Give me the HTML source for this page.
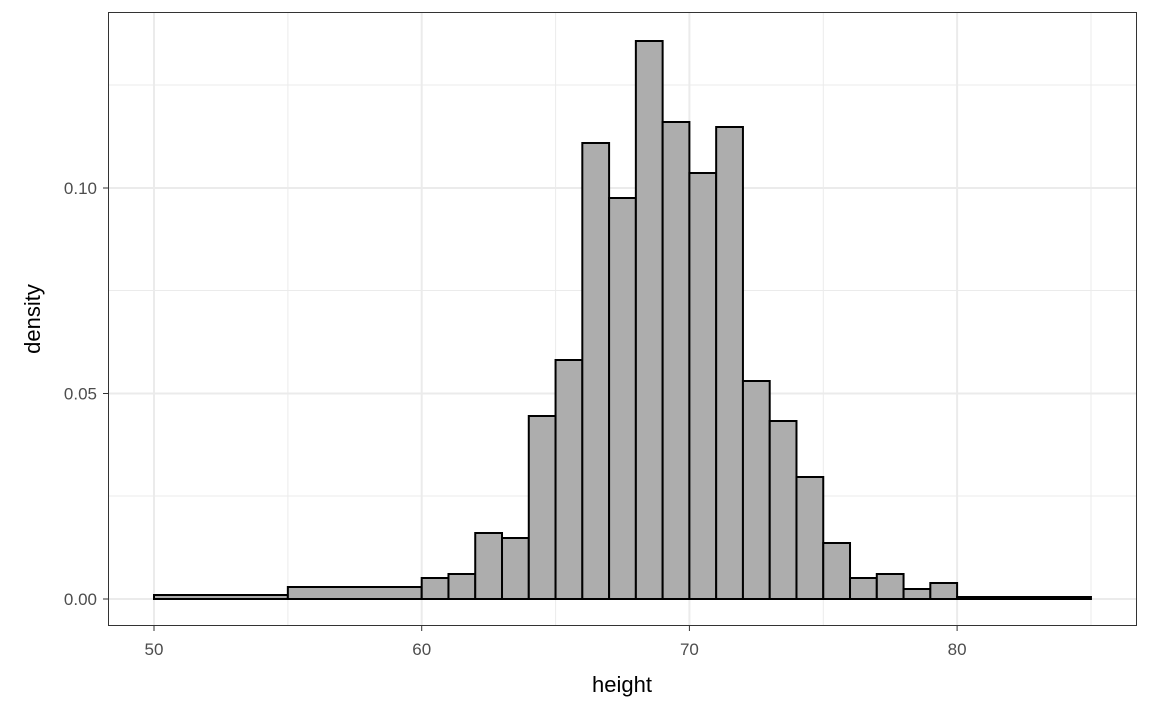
<!DOCTYPE html>
<html><head><style>body{margin:0;background:#fff}svg{display:block}</style></head><body>
<svg width="1152" height="711" xmlns="http://www.w3.org/2000/svg" font-family="Liberation Sans, Arial, sans-serif">
<rect x="0" y="0" width="1152" height="711" fill="#fff"/>
<g stroke="#ebebeb" stroke-width="1">
<line x1="108" x2="1137" y1="496" y2="496"/><line x1="108" x2="1137" y1="290.5" y2="290.5"/><line x1="108" x2="1137" y1="85" y2="85"/>
<line y1="12" y2="626" x1="287.9" x2="287.9"/><line y1="12" y2="626" x1="555.6" x2="555.6"/><line y1="12" y2="626" x1="823.3" x2="823.3"/><line y1="12" y2="626" x1="1091" x2="1091"/>
</g>
<g stroke="#ebebeb" stroke-width="2">
<line x1="108" x2="1137" y1="599" y2="599"/><line x1="108" x2="1137" y1="393.5" y2="393.5"/><line x1="108" x2="1137" y1="188" y2="188"/>
<line y1="12" y2="626" x1="154" x2="154"/><line y1="12" y2="626" x1="421.7" x2="421.7"/><line y1="12" y2="626" x1="689.4" x2="689.4"/><line y1="12" y2="626" x1="957.1" x2="957.1"/>
</g>
<g fill="#adadad" stroke="#000" stroke-width="2">
<rect x="154" y="595" width="133.85" height="4"/>
<rect x="287.85" y="587" width="133.85" height="12"/>
<rect x="421.7" y="578" width="26.77" height="21"/>
<rect x="448.47" y="574" width="26.77" height="25"/>
<rect x="475.24" y="533" width="26.77" height="66"/>
<rect x="502.01" y="538" width="26.77" height="61"/>
<rect x="528.78" y="416" width="26.77" height="183"/>
<rect x="555.55" y="360" width="26.77" height="239"/>
<rect x="582.32" y="143" width="26.77" height="456"/>
<rect x="609.09" y="198" width="26.77" height="401"/>
<rect x="635.86" y="41" width="26.77" height="558"/>
<rect x="662.63" y="122" width="26.77" height="477"/>
<rect x="689.4" y="173" width="26.77" height="426"/>
<rect x="716.17" y="127" width="26.77" height="472"/>
<rect x="742.94" y="381" width="26.77" height="218"/>
<rect x="769.71" y="421" width="26.77" height="178"/>
<rect x="796.48" y="477" width="26.77" height="122"/>
<rect x="823.25" y="543" width="26.77" height="56"/>
<rect x="850.02" y="578" width="26.77" height="21"/>
<rect x="876.79" y="574" width="26.77" height="25"/>
<rect x="903.56" y="589" width="26.77" height="10"/>
<rect x="930.33" y="583" width="26.77" height="16"/>
<rect x="957.1" y="597" width="133.85" height="2"/>
</g>
<rect x="108.5" y="12.5" width="1028" height="613" fill="none" stroke="#333" stroke-width="1"/>
<g stroke="#333" stroke-width="1">
<line x1="154" x2="154" y1="626" y2="631"/><line x1="421.7" x2="421.7" y1="626" y2="631"/><line x1="689.4" x2="689.4" y1="626" y2="631"/><line x1="957.1" x2="957.1" y1="626" y2="631"/>
<line x1="103" x2="108" y1="599" y2="599"/><line x1="103" x2="108" y1="393.5" y2="393.5"/><line x1="103" x2="108" y1="188" y2="188"/>
</g>
<g fill="#4d4d4d" font-size="17" text-anchor="middle">
<text x="154" y="655">50</text><text x="421.7" y="655">60</text><text x="689.4" y="655">70</text><text x="957.1" y="655">80</text>
</g>
<g fill="#4d4d4d" font-size="17" text-anchor="end">
<text x="97" y="605">0.00</text><text x="97" y="399.5">0.05</text><text x="97" y="194">0.10</text>
</g>
<text x="622" y="692" font-size="22" text-anchor="middle" fill="#000">height</text>
<text transform="translate(40,319) rotate(-90)" font-size="22" text-anchor="middle" fill="#000">density</text>
</svg>
</body></html>
